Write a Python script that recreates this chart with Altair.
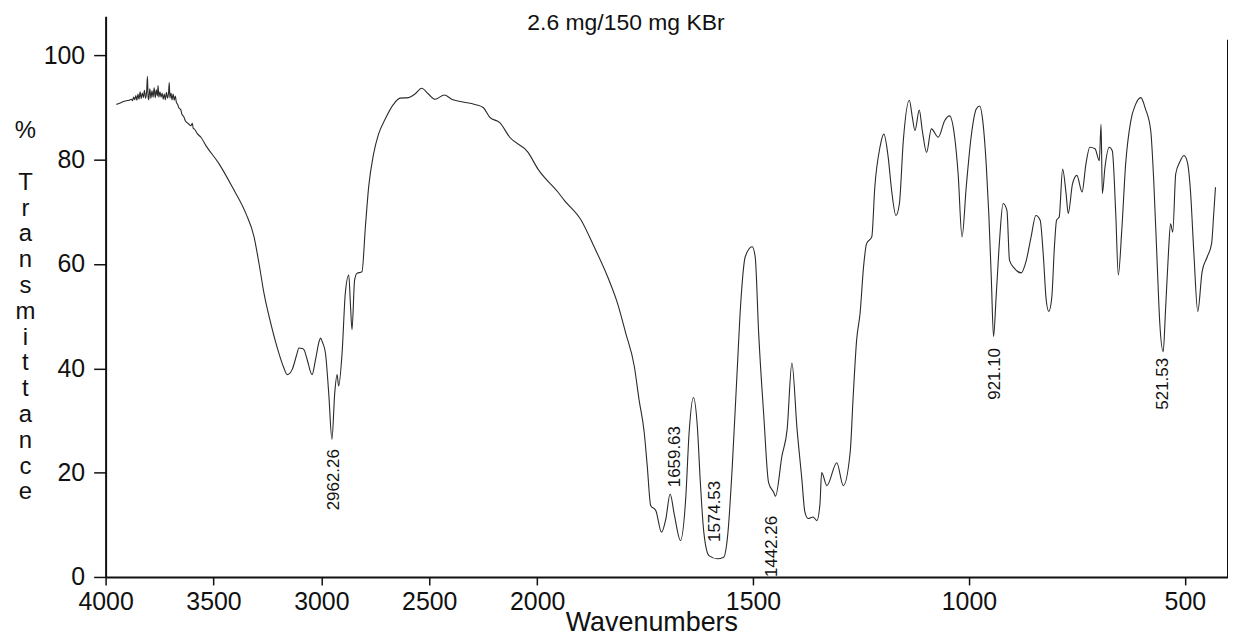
import altair as alt
import pandas as pd

# Wavenumber (cm-1) and %Transmittance
wavenumbers = [
    3950, 3935, 3920, 3905, 3890, 3880, 3875, 3870, 3865, 3860, 3855, 3850, 3845,
    3840, 3835, 3830, 3825, 3820, 3815, 3810, 3806, 3803, 3800, 3795, 3790, 3785,
    3780, 3775, 3770, 3765, 3760, 3757, 3753, 3748, 3743, 3738, 3733, 3728, 3723,
    3718, 3713, 3708, 3705, 3702, 3697, 3692, 3687, 3682, 3677, 3672, 3666, 3660,
    3652, 3645, 3638, 3630, 3622, 3614, 3605, 3598, 3594, 3589, 3575, 3558,
    3535, 3474, 3412, 3350, 3312, 3289, 3266, 3235, 3197, 3175, 3158, 3135, 3115,
    3104, 3090, 3081, 3066, 3043, 3027, 3010, 3004, 2995, 2981, 2966, 2951, 2938,
    2927, 2920, 2904, 2889, 2873, 2865, 2858, 2846, 2835, 2812, 2796, 2781, 2758,
    2735, 2704, 2666, 2635, 2596, 2566, 2535, 2504, 2473, 2430, 2396, 2350, 2289,
    2250, 2219, 2173, 2127, 2042, 1998, 1952, 1937, 1898, 1868, 1837, 1814, 1795,
    1775, 1764, 1752, 1745, 1737, 1725, 1712, 1702, 1692, 1682, 1668, 1656, 1648,
    1638, 1629, 1622, 1614, 1602, 1583, 1568, 1558, 1548, 1537, 1528, 1518, 1502,
    1495, 1487, 1475, 1464, 1452, 1448, 1433, 1421, 1410, 1398, 1387, 1380, 1372,
    1361, 1352, 1345, 1341, 1329, 1306, 1291, 1275, 1268, 1260, 1252, 1244, 1237,
    1225, 1218, 1206, 1197, 1187, 1179, 1169, 1161, 1152, 1138, 1131, 1125, 1115,
    1108, 1098, 1087, 1071, 1056, 1045, 1033, 1025, 1016, 1006, 995, 983, 975,
    968, 960, 954, 948, 943, 937, 929, 921, 912, 906, 895, 879, 868, 856, 845,
    835, 828, 821, 815, 808, 802, 797, 791, 783, 775, 770, 760, 750, 738, 729,
    720, 708, 698, 694, 691, 685, 675, 668, 660, 654, 646, 637, 625, 614, 602,
    591, 579, 572, 564, 558, 550, 545, 538, 533, 528, 521, 512, 502, 494, 487,
    479, 470, 460, 448, 438, 433, 429,
]
transmittance = [
    90.6, 90.8, 91.1, 91.3, 91.4, 91.6, 91.3, 92.0, 91.5, 92.3, 91.4, 92.6, 91.6,
    93.0, 91.7, 92.8, 91.9, 93.3, 91.8, 93.0, 96.0, 92.0, 91.5, 93.6, 91.8, 93.2,
    92.0, 93.8, 91.9, 93.4, 92.2, 94.2, 92.0, 93.0, 92.0, 92.8, 91.6, 92.6, 91.5,
    92.9, 91.8, 93.0, 94.8, 91.8, 92.8, 91.5, 92.6, 91.4, 92.2, 91.0, 90.6, 89.9,
    89.6, 88.6, 88.3, 87.4, 87.1, 86.8, 86.5, 87.0, 86.0, 85.9, 85.0, 84.3,
    82.7, 79.2, 74.7, 69.7, 65.2, 60.1, 54.4, 48.7, 42.9, 40.2, 38.8, 39.8, 42.5,
    43.9, 43.8, 43.6, 41.7, 38.8, 41.7, 45.2, 45.8, 45.0, 42.9, 35.3, 26.4, 35.3,
    38.8, 36.6, 42.9, 54.4, 57.9, 52.0, 47.4, 56.9, 58.2, 58.5, 67.1, 74.7, 81.1,
    84.9, 87.8, 90.6, 91.8, 91.9, 92.6, 93.7, 92.6, 91.6, 92.4, 91.6, 91.1, 90.6,
    90.0, 88.1, 87.1, 84.3, 81.4, 78.2, 73.8, 72.2, 68.4, 63.3, 57.6, 52.5, 46.8,
    40.4, 34.0, 27.7, 21.3, 13.7, 12.7, 8.6, 11.1, 15.9, 11.8, 7.0, 14.9, 27.7,
    34.4, 28.9, 18.1, 8.6, 4.1, 3.5, 3.8, 8.6, 21.3, 39.1, 53.1, 61.4, 63.3,
    61.4, 46.8, 30.8, 18.1, 16.2, 15.5, 23.2, 28.3, 41.0, 28.3, 18.8, 12.5, 11.2,
    11.5, 10.8, 14.0, 20.0, 17.5, 21.9, 17.5, 23.9, 34.7, 45.5, 50.6, 59.5, 63.9,
    65.2, 74.7, 82.4, 84.9, 80.5, 74.1, 69.3, 71.6, 83.6, 91.4, 88.1, 85.6, 89.5,
    85.6, 81.4, 85.9, 84.3, 87.5, 88.4, 84.3, 77.3, 65.2, 75.0, 84.3, 89.7, 90.3,
    87.5, 79.2, 69.7, 56.9, 46.1, 53.7, 64.6, 71.6, 70.3, 60.7, 59.2, 58.3, 60.4, 65.2, 69.3,
    68.4, 62.0, 53.1, 50.9, 53.7, 63.3, 68.4, 69.0, 78.2, 73.5, 69.7, 75.4, 77.0, 73.8, 79.2,
    82.4, 82.1, 79.8, 86.8, 73.5, 78.5, 82.4, 81.7, 69.7, 57.9, 66.5, 79.2, 87.5, 90.6, 91.9,
    89.7, 85.6, 76.0, 60.1, 48.7, 43.2, 50.6, 62.0, 67.7, 66.1, 77.3, 79.5, 80.8, 79.5, 74.1,
    62.0, 50.9, 58.5, 61.4, 63.9, 69.7, 74.7,
]

# Peak annotations
peak_labels = ["2962.26", "1659.63", "1574.53", "1442.26", "921.10", "521.53"]
peak_label_x = [2943, 1680, 1588, 1456, 939, 550]
peak_label_y = [24.5, 17.2, 6.7, 11.7, 43.9, 42.0]
peak_label_dir = ["down", "up", "up", "down", "down", "down"]

x_ticks = [4000, 3500, 3000, 2500, 2000, 1500, 1000, 500]
y_ticks = [0, 20, 40, 60, 80, 100]
y_title = ["%", "\u2800", "T", "r", "a", "n", "s", "m", "i", "t", "t", "a", "n", "c", "e"]

frame_x = [400]
frame_top = [103]

W, H = 1127, 563
FONT = "Liberation Sans"

spec_df = pd.DataFrame({"wn": wavenumbers, "t": transmittance, "i": range(len(wavenumbers))})
lab_df = pd.DataFrame({"wn": peak_label_x, "t": peak_label_y, "label": peak_labels, "dir": peak_label_dir})
frame_df = pd.DataFrame({"wn": frame_x, "t0": [0], "t1": frame_top})

x_scale = alt.Scale(domain=[4000, 2000, 400], range=[0, 433.3, W], nice=False, zero=False)
y_scale = alt.Scale(domain=[0, 107.5], nice=False, zero=False)

x_axis = alt.Axis(
    values=x_ticks, format="d", title="Wavenumbers", grid=False, labelFlush=False,
    domainColor="#111", domainWidth=2, tickColor="#111", tickWidth=1.5, tickSize=8,
    labelFont=FONT, labelFontSize=25, labelColor="#111", labelPadding=5,
    titleFont=FONT, titleFontSize=27, titleFontWeight="normal", titleColor="#111",
    titleX=548, titleY=54, titleBaseline="alphabetic", titleAnchor="start", titleAlign="center",
)
y_axis = alt.Axis(
    values=y_ticks, format="d", title=y_title, grid=False, labelFlush=False,
    domainColor="#111", domainWidth=2, tickColor="#111", tickWidth=1.5, tickSize=12,
    labelFont=FONT, labelFontSize=25, labelColor="#111", labelPadding=9,
    titleFont=FONT, titleFontSize=24, titleFontWeight="normal", titleColor="#111",
    titleAngle=0, titleAlign="center", titleBaseline="top", titleLineHeight=25.9,
    titleX=-81, titleY=103,
)

line = alt.Chart(spec_df).mark_line(color="#2a2a2a", strokeWidth=1.1, interpolate="monotone").encode(
    x=alt.X("wn:Q", scale=x_scale, axis=x_axis),
    y=alt.Y("t:Q", scale=y_scale, axis=y_axis),
    order=alt.Order("i:Q"),
)

frame = alt.Chart(frame_df).mark_rule(color="#111", strokeWidth=2).encode(
    x=alt.X("wn:Q", scale=x_scale),
    y=alt.Y("t0:Q", scale=y_scale),
    y2="t1:Q",
)

labels_down = alt.Chart(lab_df).transform_filter(alt.datum.dir == "down").mark_text(
    angle=270, align="right", baseline="middle", font=FONT, fontSize=17, color="#111"
).encode(x=alt.X("wn:Q", scale=x_scale), y=alt.Y("t:Q", scale=y_scale), text="label:N")

labels_up = alt.Chart(lab_df).transform_filter(alt.datum.dir == "up").mark_text(
    angle=270, align="left", baseline="middle", font=FONT, fontSize=17, color="#111"
).encode(x=alt.X("wn:Q", scale=x_scale), y=alt.Y("t:Q", scale=y_scale), text="label:N")

chart = alt.layer(line, frame, labels_down, labels_up).properties(
    width=W, height=H,
    title=alt.TitleParams("2.6 mg/150 mg KBr", font=FONT, fontSize=23, fontWeight="normal",
                          color="#111", anchor="middle", dx=-41, offset=-19),
    autosize=alt.AutoSizeParams(type="none"),
    padding={"left": 98, "top": 7, "right": 0, "bottom": 61},
).configure_view(stroke=None)

chart.save("out.html", embed_options={"renderer": "svg", "actions": False})
